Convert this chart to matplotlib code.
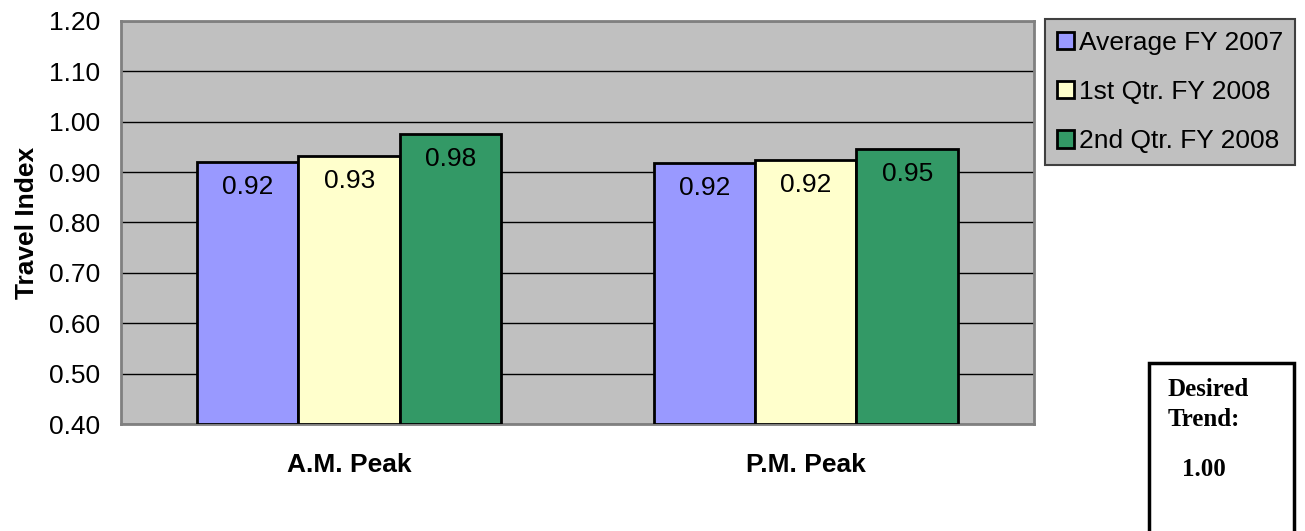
import numpy as np
import matplotlib.pyplot as plt
from matplotlib.patches import Rectangle

plt.rcParams['font.family'] = ['Liberation Sans', 'DejaVu Sans']

# Datos del gráfico
categorias = ['A.M. Peak', 'P.M. Peak']
series = ['Average FY 2007', '1st Qtr. FY 2008', '2nd Qtr. FY 2008']
avg_fy2007 = [0.921, 0.918]
q1_fy2008 = [0.932, 0.924]
q2_fy2008 = [0.976, 0.946]
etiquetas = [['0.92', '0.92'], ['0.93', '0.92'], ['0.98', '0.95']]
colores = ['#9999FF', '#FFFFCC', '#339966']
y_ticks = [0.40, 0.50, 0.60, 0.70, 0.80, 0.90, 1.00, 1.10, 1.20]

fs = 19

fig = plt.figure(figsize=(13.05, 5.31), dpi=100)
ax = fig.add_axes([0.0927, 0.2015, 0.6996, 0.759])
ax.set_facecolor('#C0C0C0')

x = np.arange(len(categorias))
ancho = 1 / 4.5
valores = [avg_fy2007, q1_fy2008, q2_fy2008]
barras = []
for i, (vals, col, nombre) in enumerate(zip(valores, colores, series)):
    pos = x + (i - 1) * ancho
    b = ax.bar(pos, np.array(vals) - 0.4, width=ancho, bottom=0.4, color=col,
               edgecolor='black', linewidth=2, label=nombre, zorder=3)
    barras.append(b)
    for p, v, t in zip(pos, vals, etiquetas[i]):
        ax.annotate(t, (p, v), xytext=(0, -25), textcoords='offset pixels',
                    ha='center', va='center', fontsize=fs, zorder=4)

ax.set_xlim(-0.5, 1.5)
ax.set_ylim(0.4, 1.2)
ax.set_yticks(y_ticks)
ax.set_yticklabels([f'{t:.2f}' for t in y_ticks], fontsize=fs)
ax.set_xticks(x)
ax.set_xticklabels(categorias, fontsize=fs, fontweight='bold')
ax.tick_params(axis='y', length=0, pad=15)
ax.tick_params(axis='x', length=0, pad=21)
ax.yaxis.grid(True, color='black', linewidth=1, zorder=1)
ax.set_axisbelow(True)
for s in ax.spines.values():
    s.set_color('#808080')
    s.set_linewidth(2)
ax.set_ylabel('Travel Index', fontsize=fs, fontweight='bold', labelpad=7)

# Leyenda
leg = fig.legend(handles=barras, labels=series, loc='upper left',
                 bbox_to_anchor=(1045 / 1305, 1 - 19 / 531), fontsize=fs,
                 frameon=True, fancybox=False, edgecolor='#404040',
                 facecolor='#C0C0C0', handlelength=0.65, handleheight=0.65,
                 handletextpad=0.2, labelspacing=0.95, borderpad=0.45,
                 borderaxespad=0)
leg.get_frame().set_linewidth(1.5)
leg.get_frame().set_alpha(1)
for h in leg.legend_handles:
    h.set_linewidth(2)

# Cuadro de tendencia deseada
fig.patches.append(Rectangle((1149 / 1305, -0.05), 145 / 1305, (531 - 363) / 531 + 0.05,
                             transform=fig.transFigure, facecolor='white',
                             edgecolor='black', linewidth=2.5))
fig.text(1168 / 1305, 1 - 390 / 531, 'Desired', family='Liberation Serif',
         fontweight='bold', fontsize=18, va='center', ha='left')
fig.text(1168 / 1305, 1 - 419 / 531, 'Trend:', family='Liberation Serif',
         fontweight='bold', fontsize=18, va='center', ha='left')
fig.text(1182 / 1305, 1 - 469 / 531, '1.00', family='Liberation Serif',
         fontweight='bold', fontsize=18, va='center', ha='left')

fig.savefig('out.png', dpi=100)
